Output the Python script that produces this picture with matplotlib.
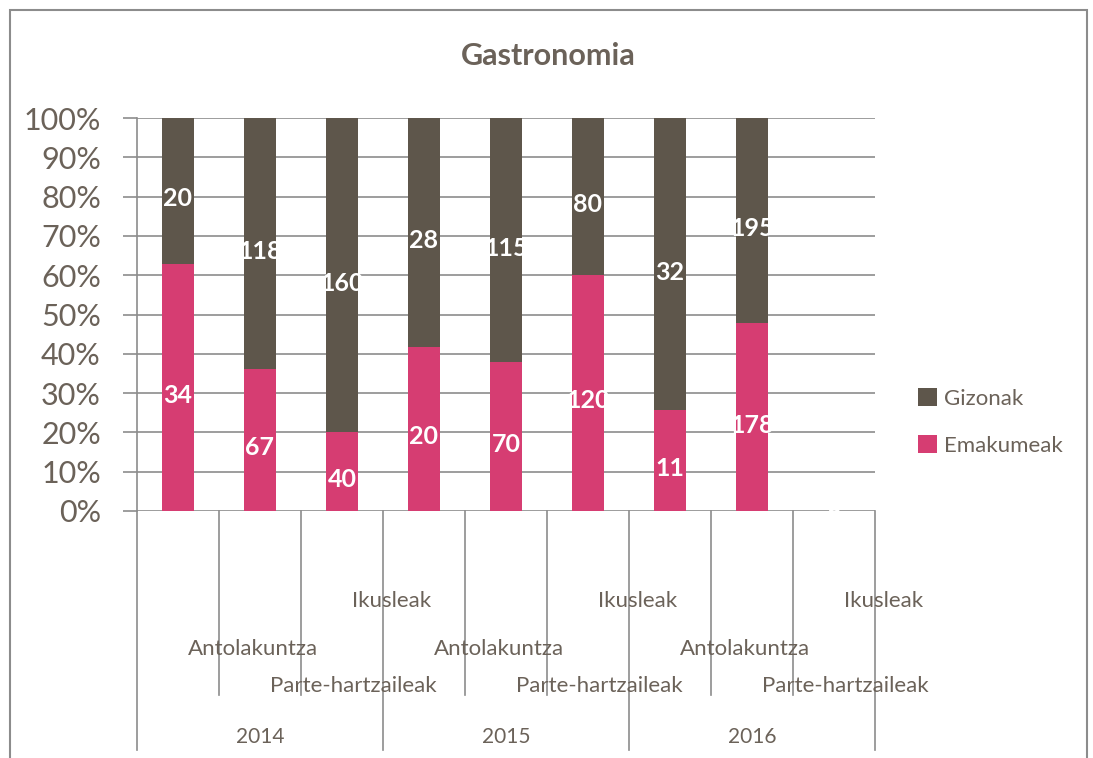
import numpy as np
import matplotlib.pyplot as plt
from matplotlib.patches import Rectangle

# data
years = ['2014', '2015', '2016']
groups = ['Antolakuntza', 'Parte-hartzaileak', 'Ikusleak']
emakumeak = np.array([34, 67, 40, 20, 70, 120, 11, 178, 0])
gizonak = np.array([20, 118, 160, 28, 115, 80, 32, 195, 0])

c_giz = '#5e564b'
c_ema = '#d63d72'
c_txt = '#6b6259'
c_grid = '#8c8c8c'

plt.rcParams['font.family'] = ['Lato', 'DejaVu Sans']

fig = plt.figure(figsize=(10.93, 7.58), dpi=100)
ax = fig.add_axes([137 / 1093, 1 - 511 / 758, 738 / 1093, 393 / 758])

total = emakumeak + gizonak
safe = np.where(total == 0, 1, total)
p_ema = emakumeak / safe
p_giz = np.where(total == 0, 0, gizonak / safe)

x = np.arange(len(emakumeak))
b1 = ax.bar(x, p_ema, width=0.4, color=c_ema, label='Emakumeak', zorder=3)
b2 = ax.bar(x, p_giz, bottom=p_ema, width=0.4, color=c_giz, label='Gizonak', zorder=3)

# value labels, clipped to the bar like the original
for bars, vals, bottoms, heights in [(b1, emakumeak, np.zeros(len(x)), p_ema),
                                     (b2, gizonak, p_ema, p_giz)]:
    for k, (rect, v, b, h) in enumerate(zip(bars, vals, bottoms, heights)):
        t = ax.text(rect.get_x() + rect.get_width() / 2, b + h / 2 - 0.02, str(v),
                    ha='center', va='center', color='white', fontsize=18,
                    fontweight='bold', zorder=4)
        if total[k] > 0:
            t.set_clip_path(rect)

ax.set_xlim(-0.5, len(x) - 0.5)
ax.set_ylim(0, 1)
ax.set_yticks(np.arange(0, 1.01, 0.1))
ax.set_yticklabels(['%d%%' % round(v * 100) for v in np.arange(0, 1.01, 0.1)])
ax.yaxis.grid(True, color=c_grid, lw=1.2, zorder=1)
ax.tick_params(axis='y', length=10, width=1.2, color=c_grid, pad=16,
               labelsize=22, labelcolor=c_txt)
ax.set_xticks([])
for s in ['top', 'right', 'bottom']:
    ax.spines[s].set_visible(False)
ax.spines['left'].set_color(c_grid)
ax.spines['left'].set_linewidth(1.2)

# multi-level category axis below the plot
trans = ax.get_xaxis_transform()
bounds = np.arange(len(x) + 1) - 0.5
for i, bx in enumerate(bounds):
    y_end = -0.608 if i % 3 == 0 else -0.468
    ax.plot([bx, bx], [0, y_end], color=c_grid, lw=1.2, transform=trans, clip_on=False)

label_y = {'Antolakuntza': -0.351, 'Parte-hartzaileak': -0.445, 'Ikusleak': -0.229}
for i in range(len(x)):
    name = groups[i % 3]
    ax.text(bounds[i] + 0.62, label_y[name], name, transform=trans, ha='left',
            va='center', fontsize=16, color=c_txt)
for j, yr in enumerate(years):
    ax.text(j * 3 + 1, -0.575, yr, transform=trans, ha='center', va='center',
            fontsize=15, color=c_txt)

fig.text(548 / 1093, 1 - 56 / 758, 'Gastronomia', ha='center', va='center',
         fontsize=22, fontweight='bold', color=c_txt)

leg = fig.legend(handles=[b2, b1], labels=['Gizonak', 'Emakumeak'],
                 loc='center left', bbox_to_anchor=(898 / 1093, 1 - 422 / 758),
                 frameon=False, fontsize=16, handlelength=0.85, handleheight=0.85,
                 handletextpad=0.3, labelspacing=1.2, labelcolor=c_txt)

fig.patches.append(Rectangle((10 / 1093, -0.05), 1077 / 1093, 1.05 - 10 / 758,
                             transform=fig.transFigure, fill=False,
                             edgecolor='#8c8c8c', lw=1.5))

plt.savefig('out.png')
